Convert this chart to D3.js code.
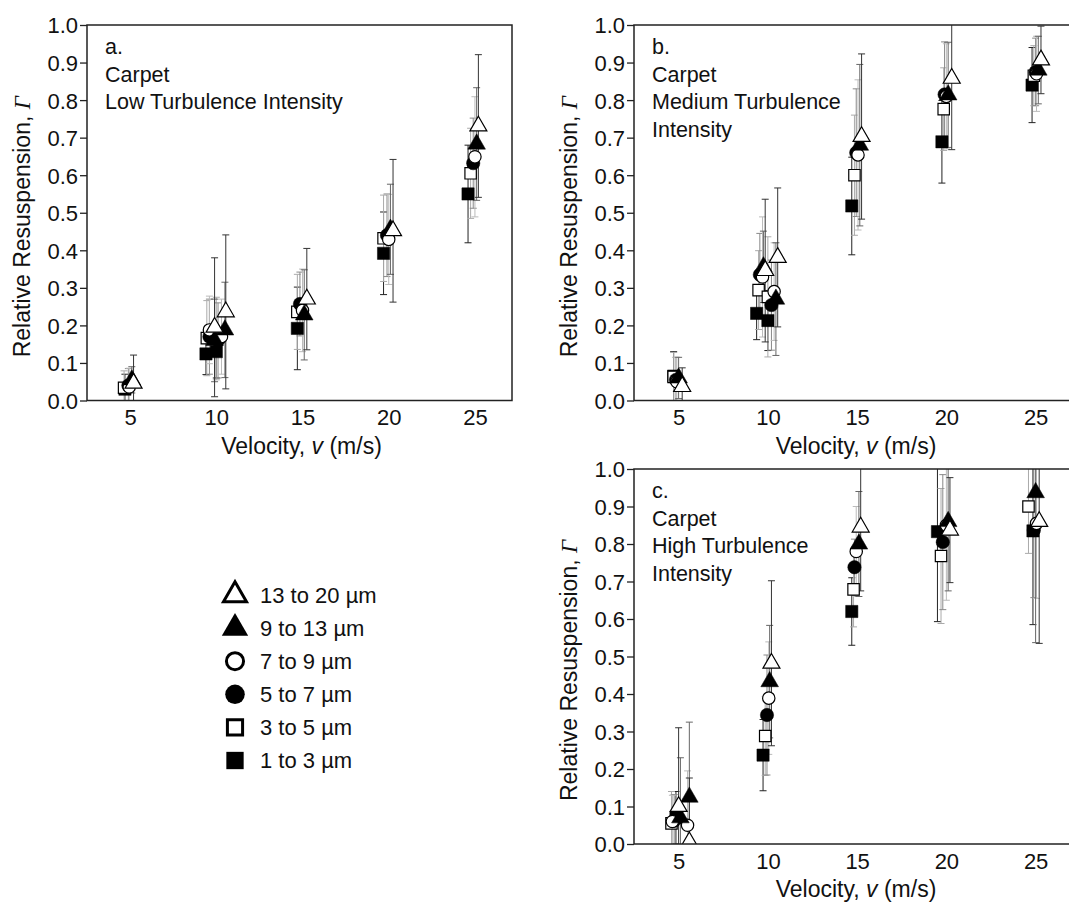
<!DOCTYPE html>
<html lang="en">
<head>
<meta charset="UTF-8">
<title>Relative resuspension - carpet</title>
<style>
  body { margin: 0; background: #fff; }
  svg { font-family: "Liberation Sans", Arial, sans-serif; }
  .tick text { font-size: 22px; fill: #111; }
  .tick line { stroke: #222; stroke-width: 1.3px; }
  .note { font-size: 21.5px; fill: #111; }
  .title { font-size: 23px; fill: #111; }
  .legend text { font-size: 22px; fill: #111; }
</style>
</head>
<body>
<script src="https://cdn.jsdelivr.net/npm/d3@7"></script>
<script>
// ticks
var xTicks = [5, 10, 15, 20, 25];
var yTicks = [0, 0.1, 0.2, 0.3, 0.4, 0.5, 0.6, 0.7, 0.8, 0.9, 1.0];

// particle size bins, in drawing order (legend shows them reversed)
var sizeLabels = ["1 to 3 µm", "3 to 5 µm", "5 to 7 µm", "7 to 9 µm", "9 to 13 µm", "13 to 20 µm"];

// each point: [velocity m/s, relative resuspension, error]
// a. low turbulence
var sqLow   = [[4.7,0.03,0.04],[9.4,0.124,0.055],[10.0,0.13,0.07],[14.7,0.192,0.11],[19.7,0.392,0.11],[24.6,0.55,0.13]];
var osqLow  = [[4.65,0.034,0.045],[9.45,0.166,0.1],[10.0,0.165,0.11],[14.7,0.236,0.1],[19.7,0.432,0.115],[24.75,0.605,0.12]];
var ciLow   = [[4.9,0.04,0.045],[9.6,0.17,0.1],[10.1,0.16,0.1],[14.85,0.257,0.085],[19.9,0.44,0.11],[24.9,0.632,0.12]];
var ociLow  = [[4.95,0.036,0.05],[9.6,0.188,0.09],[10.3,0.17,0.1],[15.0,0.24,0.11],[20.0,0.429,0.12],[25.0,0.649,0.16]];
var triLow  = [[5.1,0.055,0.035],[9.9,0.16,0.11],[10.5,0.188,0.127],[15.1,0.228,0.12],[20.1,0.456,0.12],[25.1,0.683,0.15]];
var otriLow = [[5.2,0.046,0.075],[9.9,0.195,0.185],[10.55,0.236,0.205],[15.25,0.27,0.135],[20.25,0.452,0.19],[25.2,0.731,0.19]];

// b. medium turbulence
var sqMed   = [[4.72,0.065,0.065],[9.37,0.232,0.07],[10.0,0.213,0.08],[14.7,0.518,0.13],[19.75,0.689,0.11],[24.8,0.84,0.1]];
var osqMed  = [[4.72,0.063,0.065],[9.48,0.294,0.105],[10.0,0.276,0.16],[14.85,0.6,0.16],[19.85,0.776,0.11],[24.9,0.865,0.08]];
var ciMed   = [[4.85,0.055,0.06],[9.55,0.335,0.11],[10.2,0.254,0.12],[14.95,0.66,0.17],[19.9,0.815,0.14],[25.0,0.875,0.09]];
var ociMed  = [[4.9,0.05,0.065],[9.7,0.329,0.16],[10.35,0.29,0.13],[15.05,0.654,0.2],[20.0,0.81,0.14],[25.05,0.87,0.1]];
var triMed  = [[5.0,0.06,0.055],[9.75,0.356,0.095],[10.45,0.27,0.15],[15.15,0.68,0.215],[20.1,0.814,0.14],[25.15,0.88,0.09]];
var otriMed = [[5.2,0.037,0.05],[9.85,0.346,0.19],[10.55,0.381,0.185],[15.25,0.703,0.22],[20.3,0.858,0.19],[25.3,0.907,0.09]];

// c. high turbulence
var sqHigh   = [[4.85,0.07,0.07],[9.73,0.237,0.095],[14.7,0.62,0.09],[19.5,0.833,0.24],[24.85,0.835,0.25]];
var osqHigh  = [[4.6,0.055,0.085],[9.85,0.288,0.105],[14.8,0.679,0.1],[19.7,0.768,0.18],[24.6,0.9,0.125]];
var ciHigh   = [[4.75,0.062,0.07],[9.95,0.344,0.16],[14.85,0.738,0.075],[19.8,0.805,0.18],[24.9,0.837,0.18]];
var ociHigh  = [[4.65,0.06,0.07],[5.5,0.05,0.145],[10.05,0.389,0.15],[14.95,0.78,0.12],[20.0,0.85,0.2],[25.05,0.855,0.2]];
var triHigh  = [[5.1,0.07,0.16],[5.6,0.125,0.2],[10.1,0.433,0.15],[15.1,0.8,0.14],[20.1,0.86,0.185],[25.0,0.937,0.4]];
var otriHigh = [[5.0,0.1,0.21],[5.6,0.006,0.17],[10.2,0.482,0.22],[15.2,0.845,0.17],[20.2,0.837,0.14],[25.2,0.86,0.325]];

// marker styles per size bin
var shapes    = [d3.symbolSquare, d3.symbolSquare, d3.symbolCircle, d3.symbolCircle, d3.symbolTriangle, d3.symbolTriangle];
var areas     = [150, 130, 140, 120, 135, 125];
var filled    = [true, false, true, false, true, false];
var errColors = ["#222", "#aaa", "#888", "#bbb", "#666", "#333"];

var panels = [
  {left: 87,  top: 25,  width: 425, height: 375.5, notes: ["a.", "Carpet", "Low Turbulence Intensity"],
   series: [sqLow, osqLow, ciLow, ociLow, triLow, otriLow]},
  {left: 634, top: 25,  width: 440, height: 375.5, notes: ["b.", "Carpet", "Medium Turbulence", "Intensity"],
   series: [sqMed, osqMed, ciMed, ociMed, triMed, otriMed]},
  {left: 634, top: 469, width: 440, height: 375,   notes: ["c.", "Carpet", "High Turbulence", "Intensity"],
   series: [sqHigh, osqHigh, ciHigh, ociHigh, triHigh, otriHigh]}
];

var svg = d3.select("body").append("svg")
    .attr("width", 1069)
    .attr("height", 903);

svg.append("rect").attr("width", 1069).attr("height", 903).attr("fill", "#fff");

panels.forEach(function (p, pi) {
    var x = d3.scaleLinear().domain([2.5, 27.15]).range([0, p.width]);
    var y = d3.scaleLinear().domain([0, 1]).range([p.height, 0]);

    var g = svg.append("g").attr("transform", "translate(" + p.left + "," + p.top + ")");

    g.append("clipPath").attr("id", "clip" + pi)
        .append("rect").attr("width", p.width).attr("height", p.height);

    // axes
    var yAx = g.append("g")
        .call(d3.axisLeft(y).tickValues(yTicks).tickFormat(d3.format(".1f")).tickSize(7).tickPadding(2));
    yAx.select(".domain").remove();
    yAx.selectAll("text").attr("dy", "0.36em");

    var xAx = g.append("g").attr("transform", "translate(0," + p.height + ")")
        .call(d3.axisBottom(x).tickValues(xTicks).tickSize(0).tickPadding(9));
    xAx.select(".domain").remove();

    // titles
    g.append("text").attr("class", "title")
        .attr("x", p.width / 2 + 2).attr("y", p.height + 53)
        .attr("text-anchor", "middle")
        .html('Velocity, <tspan font-style="italic">v</tspan> (m/s)');

    g.append("text").attr("class", "title")
        .attr("transform", "translate(-57," + (p.height / 2 + 14) + ") rotate(-90)")
        .attr("text-anchor", "middle")
        .html('Relative Resuspension, <tspan font-family="Liberation Serif, Times New Roman, serif" font-style="italic">Γ</tspan>');

    // panel notes
    g.selectAll(".note").data(p.notes).enter().append("text")
        .attr("class", "note")
        .attr("x", 18)
        .attr("y", function (d, i) { return 29 + i * 27.6; })
        .text(function (d) { return d; });

    var plot = g.append("g").attr("clip-path", "url(#clip" + pi + ")");

    // error bars first, all series
    p.series.forEach(function (s, si) {
        var bars = plot.append("g").selectAll("g").data(s).enter().append("g")
            .attr("stroke", errColors[si]).attr("stroke-width", 1);
        bars.append("line")
            .attr("x1", function (d) { return x(d[0]); })
            .attr("x2", function (d) { return x(d[0]); })
            .attr("y1", function (d) { return y(d[1] - d[2]); })
            .attr("y2", function (d) { return y(d[1] + d[2]); });
        [-1, 1].forEach(function (sign) {
            bars.append("line")
                .attr("x1", function (d) { return x(d[0]) - 3.5; })
                .attr("x2", function (d) { return x(d[0]) + 3.5; })
                .attr("y1", function (d) { return y(d[1] + sign * d[2]); })
                .attr("y2", function (d) { return y(d[1] + sign * d[2]); });
        });
    });

    // then the markers
    p.series.forEach(function (s, si) {
        plot.append("g").selectAll("path").data(s).enter().append("path")
            .attr("transform", function (d) { return "translate(" + x(d[0]) + "," + y(d[1]) + ")"; })
            .attr("d", d3.symbol().type(shapes[si]).size(areas[si]))
            .attr("fill", filled[si] ? "#000" : "#fff")
            .attr("stroke", "#000")
            .attr("stroke-width", filled[si] ? 0.5 : 1.2);
    });

    // frame
    g.append("rect").attr("width", p.width).attr("height", p.height)
        .attr("fill", "none").attr("stroke", "#222").attr("stroke-width", 1.5);
});

// legend
var legendOrder = d3.range(sizeLabels.length).reverse();
var legend = svg.append("g").attr("class", "legend").attr("transform", "translate(235,595)");
var rows = legend.selectAll("g").data(legendOrder).enter().append("g")
    .attr("transform", function (d, i) { return "translate(0," + (i * 33.1) + ")"; });
rows.append("path")
    .attr("d", function (d) { return d3.symbol().type(shapes[d]).size(filled[d] ? 300 : 230)(); })
    .attr("fill", function (d) { return filled[d] ? "#000" : "#fff"; })
    .attr("stroke", "#000")
    .attr("stroke-width", function (d) { return filled[d] ? 0 : 3; });
rows.append("text")
    .attr("x", 25).attr("y", 7.5)
    .text(function (d) { return sizeLabels[d]; });
</script>
</body>
</html>
